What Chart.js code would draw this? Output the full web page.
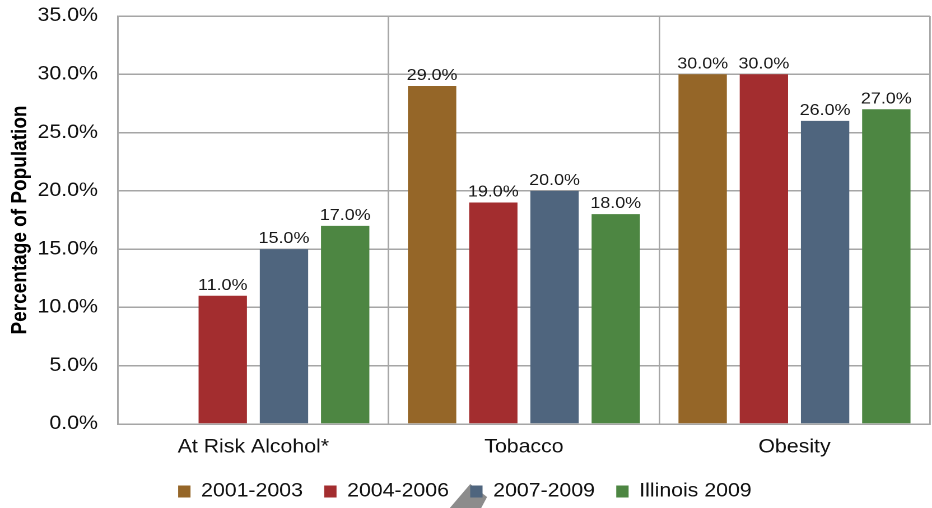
<!DOCTYPE html>
<html><head><meta charset="utf-8">
<script src="https://cdn.jsdelivr.net/npm/chart.js@4.4.1/dist/chart.umd.min.js"></script>
<style>
html,body{margin:0;padding:0;background:#fff;overflow:hidden;width:932px;height:508px;}
#wrap{position:absolute;left:0;top:0;width:832px;height:508px;transform:scaleX(1.1202);transform-origin:0 0;}
</style></head><body>
<div id="wrap"><canvas id="c"></canvas></div>
<script>
const categories = ['At Risk Alcohol*', 'Tobacco', 'Obesity'];
const seriesNames = ['2001-2003', '2004-2006', '2007-2009', 'Illinois 2009'];
const values2001_2003 = [null, 29.0, 30.0];
const values2004_2006 = [11.0, 19.0, 30.0];
const values2007_2009 = [15.0, 20.0, 26.0];
const valuesIllinois2009 = [17.0, 18.0, 27.0];
const yTickMin = 0, yTickMax = 35, yTickStep = 5;
const yTitle = 'Percentage of Population';

const colors = ['#956628', '#a32d2f', '#4f657e', '#4d8642'];
const FONT = '"Liberation Sans", Arial, sans-serif';
const GRID = '#a6a6a6';

const seriesValues = [values2001_2003, values2004_2006, values2007_2009, valuesIllinois2009];

const valueLabels = {
  id: 'valueLabels',
  afterDatasetsDraw(chart) {
    const ctx = chart.ctx;
    ctx.save();
    ctx.font = '16px ' + FONT;
    ctx.fillStyle = '#1a1a1a';
    ctx.textAlign = 'center';
    ctx.textBaseline = 'alphabetic';
    chart.data.datasets.forEach((ds, i) => {
      const meta = chart.getDatasetMeta(i);
      meta.data.forEach((bar, j) => {
        const v = ds.data[j];
        if (v == null) return;
        ctx.fillText(v.toFixed(1) + '%', bar.x, bar.y - 6);
      });
    });
    ctx.restore();
  }
};

const overlayShape = {
  id: 'overlayShape',
  beforeDraw(chart) {
    const ctx = chart.ctx;
    ctx.save();
    ctx.fillStyle = '#8c8c8c';
    ctx.beginPath();
    ctx.moveTo(400, 510);
    ctx.lineTo(419.8, 484);
    ctx.lineTo(434.8, 497);
    ctx.lineTo(428.6, 510);
    ctx.closePath();
    ctx.fill();
    ctx.restore();
  }
};

new Chart(document.getElementById('c'), {
  type: 'bar',
  data: {
    labels: categories,
    datasets: seriesNames.map((name, i) => ({
      label: name,
      data: seriesValues[i],
      backgroundColor: colors[i],
      borderWidth: 0,
      categoryPercentage: 0.905,
      barPercentage: 0.79
    }))
  },
  options: {
    responsive: true,
    maintainAspectRatio: false,
    animation: false,
    devicePixelRatio: 2,
    layout: { padding: { top: 16, right: 2, left: 0, bottom: -3 } },
    plugins: {
      tooltip: { enabled: false },
      legend: {
        position: 'bottom',
        labels: {
          boxWidth: 11,
          boxHeight: 12,
          padding: 19,
          color: '#111',
          font: { family: FONT, size: 19 }
        }
      }
    },
    scales: {
      x: {
        grid: { display: true, color: GRID, lineWidth: 1.4, drawTicks: false, offset: true },
        border: { display: true, color: GRID, width: 1.5 },
        ticks: { color: '#111', font: { family: FONT, size: 19 }, padding: 12, maxRotation: 0 },
        afterFit(scale) { scale.height = 39; }
      },
      y: {
        min: yTickMin,
        max: yTickMax,
        grid: { color: GRID, lineWidth: 1.5, drawTicks: true, tickLength: 18, tickColor: 'rgba(0,0,0,0)' },
        border: { display: true, color: GRID, width: 1.4 },
        ticks: {
          stepSize: yTickStep,
          padding: 0,
          color: '#111',
          font: { family: FONT, size: 19 },
          callback: v => Number(v).toFixed(1) + '%'
        },
        title: {
          display: true,
          text: yTitle,
          color: '#000',
          font: { family: FONT, size: 19, weight: 'bold' },
          padding: { top: 7, bottom: 0 }
        },
        afterFit(scale) { scale.width = 105.4; }
      }
    }
  },
  plugins: [valueLabels, overlayShape]
});
</script>
</body></html>
